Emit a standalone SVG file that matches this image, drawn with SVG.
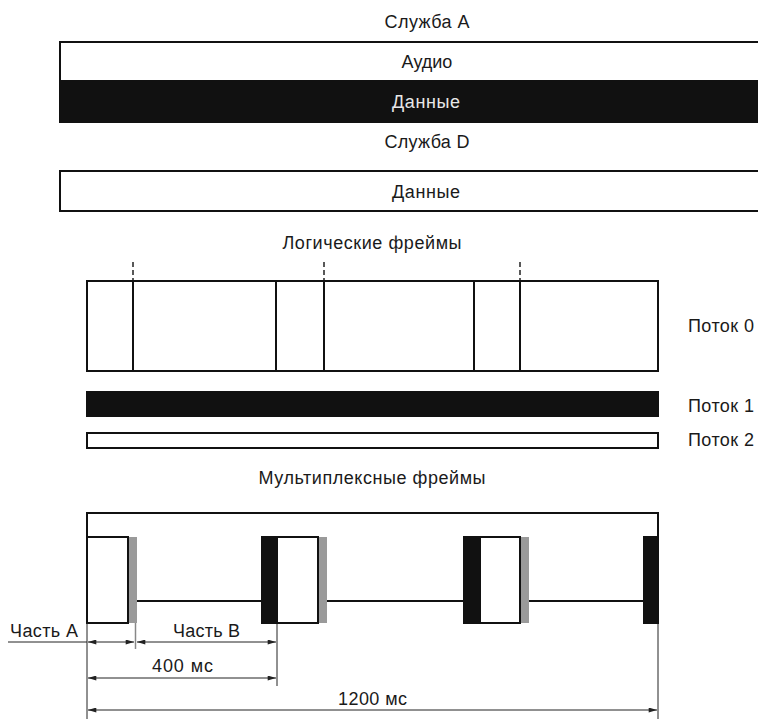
<svg xmlns="http://www.w3.org/2000/svg" width="758" height="719" viewBox="0 0 758 719">
<style>
text{font-family:"Liberation Sans",Arial,sans-serif;font-size:18px;fill:#1a1a1a}
.c{text-anchor:middle}
.w{fill:#e8e8e8}
.b{fill:none;stroke:#111;stroke-width:2}
.blk{fill:#111}
.sh{fill:#9a9a9a}
.thin{fill:none;stroke:#222;stroke-width:1}
.dash{stroke:#222;stroke-width:1.5;stroke-dasharray:5 3}
</style>
<defs>
<marker id="ah" viewBox="0 0 10 6" refX="10" refY="3" markerWidth="9" markerHeight="5" markerUnits="userSpaceOnUse" orient="auto-start-reverse">
<path d="M0,0 L10,3 L0,6 Z" fill="#222"/>
</marker>
</defs>
<rect width="758" height="719" fill="#fff"/>

<g id="serviceA">
<text class="c" x="427" y="28" textLength="85">Служба А</text>
<rect x="60" y="42" width="700" height="39" fill="#fff" stroke="#111" stroke-width="2"/>
<rect x="59" y="80" width="701" height="43" class="blk"/>
<text class="c" x="427" y="68">Аудио</text>
<text class="c w" x="426" y="108" textLength="68">Данные</text>
</g>

<g id="serviceD">
<text class="c" x="427" y="148" textLength="85">Служба D</text>
<rect x="60" y="171" width="700" height="40" fill="#fff" stroke="#111" stroke-width="2"/>
<text class="c" x="426" y="198" textLength="68">Данные</text>
</g>

<g id="logical">
<text class="c" x="372" y="249" textLength="179">Логические фреймы</text>
<line class="dash" x1="133" y1="262" x2="133" y2="281"/>
<line class="dash" x1="324" y1="262" x2="324" y2="281"/>
<line class="dash" x1="520" y1="262" x2="520" y2="281"/>
</g>

<g id="stream0">
<rect class="b" x="87" y="281" width="571" height="90"/>
<line class="b" x1="133" y1="281" x2="133" y2="371"/>
<line class="b" x1="276" y1="281" x2="276" y2="371"/>
<line class="b" x1="324" y1="281" x2="324" y2="371"/>
<line class="b" x1="474" y1="281" x2="474" y2="371"/>
<line class="b" x1="520" y1="281" x2="520" y2="371"/>
<text x="688" y="332" textLength="66">Поток 0</text>
</g>

<g id="stream1">
<rect x="86" y="391" width="573" height="26" class="blk"/>
<text x="688" y="412" textLength="66">Поток 1</text>
</g>

<g id="stream2">
<rect class="b" x="87" y="433" width="571" height="15" fill="#fff"/>
<text x="688" y="446" textLength="66">Поток 2</text>
</g>

<g id="mux">
<text class="c" x="372" y="484" textLength="227">Мультиплексные фреймы</text>
<polyline class="b" points="87,537 87,513 658,513 658,537"/>
<rect class="sh" x="129" y="537" width="8" height="86"/>
<rect class="b" x="87" y="537" width="41" height="86" fill="#fff"/>
<rect class="blk" x="261" y="536" width="16" height="88"/>
<rect class="sh" x="319" y="537" width="8" height="86"/>
<rect class="b" x="277" y="537" width="41" height="86" fill="#fff"/>
<rect class="blk" x="463" y="536" width="17" height="88"/>
<rect class="sh" x="521" y="537" width="8" height="86"/>
<rect class="b" x="480" y="537" width="40" height="86" fill="#fff"/>
<rect class="blk" x="643" y="536" width="16" height="88"/>
</g>

<g id="connectors">
<line class="b" x1="137" y1="601" x2="261" y2="601"/>
<line class="b" x1="327" y1="601" x2="463" y2="601"/>
<line class="b" x1="529" y1="601" x2="643" y2="601"/>
<line class="thin" x1="87" y1="623" x2="87" y2="719"/>
<line class="thin" x1="658" y1="624" x2="658" y2="719"/>
<line x1="135.5" y1="623" x2="135.5" y2="649" stroke="#888" stroke-width="1.5"/>
<line class="thin" x1="277" y1="624" x2="277" y2="686"/>
<line class="thin" x1="8" y1="642" x2="87" y2="642"/>
<line class="thin" x1="88" y1="642" x2="134" y2="642" marker-start="url(#ah)" marker-end="url(#ah)"/>
<line class="thin" x1="137" y1="642" x2="276" y2="642" marker-start="url(#ah)" marker-end="url(#ah)"/>
<line class="thin" x1="88" y1="678" x2="276" y2="678" marker-start="url(#ah)" marker-end="url(#ah)"/>
<line class="thin" x1="88" y1="710" x2="657" y2="710" marker-start="url(#ah)" marker-end="url(#ah)"/>
</g>

<g id="labels">
<text x="10" y="637" textLength="68">Часть А</text>
<text x="173" y="637" textLength="67">Часть В</text>
<text x="152" y="672" textLength="61">400 мс</text>
<text x="338" y="705" textLength="69">1200 мс</text>
</g>
</svg>
